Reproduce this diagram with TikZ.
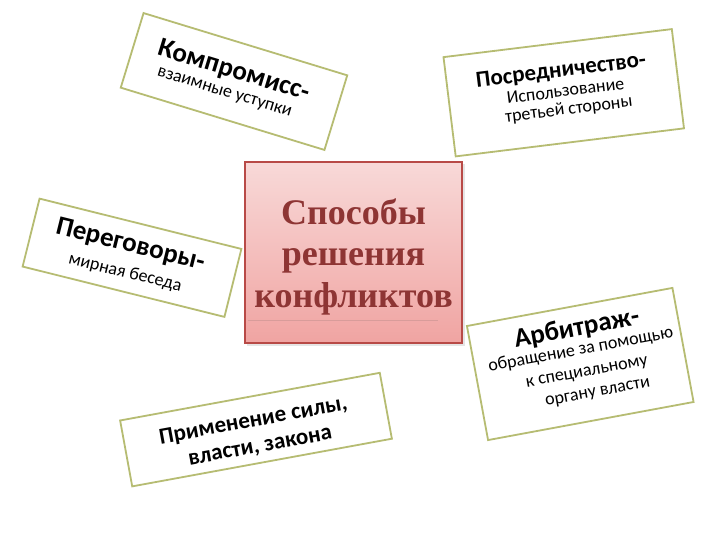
\documentclass[tikz,border=0pt]{standalone}
\usepackage{fontspec}
\setmainfont{Carlito}
\newfontfamily\serifb{Liberation Serif}
\definecolor{cardline}{HTML}{B6BC72}
\definecolor{cbord}{HTML}{B84A47}
\definecolor{ctop}{HTML}{F8D9D8}
\definecolor{cbot}{HTML}{F0A4A2}
\definecolor{ctxt}{HTML}{8E3534}
\definecolor{uline}{HTML}{D89C9A}
\begin{document}
\begin{tikzpicture}[x=1pt,y=-1pt,
  card/.style={draw=cardline, line width=1.8pt, fill=white, inner sep=0pt},
  ttl/.style={font=\fontsize{27}{30}\selectfont\bfseries, inner sep=0pt, text=black},
  ttlm/.style={font=\fontsize{23}{26}\selectfont\bfseries, inner sep=0pt, text=black},
  sub/.style={font=\fontsize{18}{20}\selectfont, inner sep=0pt, text=black},
  ctext/.style={font=\serifb\bfseries\fontsize{36}{42}\selectfont, text=ctxt, inner sep=0pt, anchor=base}]
\useasboundingbox (0,0) rectangle (720,540);
\fill[white] (0,0) rectangle (720,540);

% central box
\fill[black!10] (247,164) rectangle (464.5,345.5);
\node[draw=cbord, line width=2.2pt, top color=ctop, bottom color=cbot,
      minimum width=217pt, minimum height=181pt, inner sep=0pt] (center) at (353.5,252.5) {};
\node[ctext] (c1) at (353.5,225) {Способы};
\node[ctext] (c2) at (353.5,265) {решения};
\node[ctext] (c3) at (353.5,307) {конфликтов};
\draw[uline, line width=0.8pt] (center.west |- 0,320) ++(4,0) coordinate (ul1) -- ++(190,0) coordinate (ul2);

% card 1: Компромисс
\begin{scope}[shift={(234,81.5)}, rotate=-17, transform shape]
  \node[card, minimum width=213pt, minimum height=78pt] (k1) at (0,0) {};
  \node[ttl, anchor=base west] (k1t) at (-82,-3) {Компромисс-};
  \node[sub, anchor=base west] (k1s) at (-76,17) {взаимные уступки};
\end{scope}

% card 2: Посредничество
\begin{scope}[shift={(563.75,92.75)}, rotate=7, transform shape]
  \node[card, minimum width=230pt, minimum height=100pt] (k2) at (0,0) {};
  \node[ttlm, anchor=base] (k2t) at (0,-16) {Посредничество-};
  \node[sub, anchor=base] (k2s) at (2,4) {Использование};
  \node[sub, anchor=base] (k2u) at (3,22) {третьей стороны};
\end{scope}

% card 3: Переговоры
\begin{scope}[shift={(132,257.75)}, rotate=-14, transform shape]
  \node[card, minimum width=208pt, minimum height=70pt] (k3) at (0,0) {};
  \node[ttl, anchor=base west] (k3t) at (-81,-5) {Переговоры-};
  \node[sub, anchor=base west] (k3s) at (-61,21) {мирная беседа};
\end{scope}

% card 4: Арбитраж
\begin{scope}[shift={(580.25,364)}, rotate=10.5, transform shape]
  \node[card, minimum width=209pt, minimum height=116pt] (k4) at (0,0) {};
  \node[ttl, anchor=base] (k4t) at (3,-28) {Арбитраж-};
  \node[sub, anchor=base] (k4a) at (3,-9) {обращение за помощью};
  \node[sub, anchor=base] (k4b) at (5,13) {к специальному};
  \node[sub, anchor=base] (k4c) at (12,35) {органу власти};
\end{scope}

% card 5: Применение
\begin{scope}[shift={(256,429.6)}, rotate=10.4, transform shape]
  \node[card, minimum width=264pt, minimum height=67pt] (k5) at (0,0) {};
  \node[ttlm, anchor=base] (k5t) at (-1,-3) {Применение силы,};
  \node[ttlm, anchor=base] (k5s) at (1,23) {власти, закона};
\end{scope}
\end{tikzpicture}
\end{document}
